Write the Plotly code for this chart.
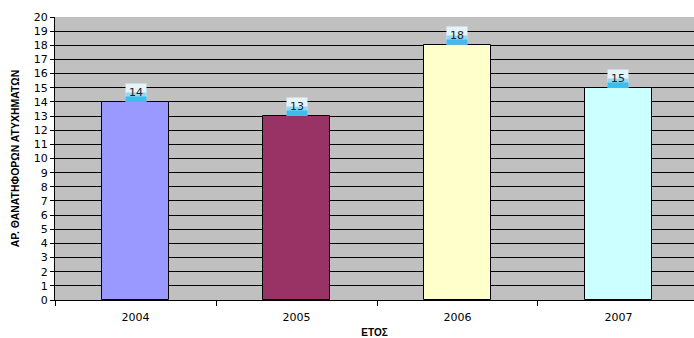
import plotly.graph_objects as go

years = ["2004", "2005", "2006", "2007"]
values = [14, 13, 18, 15]
colors = ["#9999FF", "#993366", "#FFFFCC", "#CCFFFF"]
y_title = "ΑΡ. ΘΑΝΑΤΗΦΟΡΩΝ ΑΤΥΧΗΜΑΤΩΝ"
x_title = "ΕΤΟΣ"

fig = go.Figure()
fig.add_trace(go.Bar(
    x=years, y=values,
    marker=dict(color=colors, line=dict(color="black", width=1)),
    width=0.416, showlegend=False, hoverinfo="skip",
))

for i, v in enumerate(values):
    # gradient-like label background (white top to sky blue bottom)
    fig.add_annotation(x=i, y=v, text=" ", showarrow=False, yanchor="bottom",
                       width=20, height=17, bgcolor="#e4f4fb", borderpad=0)
    fig.add_annotation(x=i, y=v, text=" ", showarrow=False, yanchor="bottom",
                       width=20, height=8, bgcolor="#93d8f5", borderpad=0,
                       font=dict(size=4))
    fig.add_annotation(x=i, y=v, text=" ", showarrow=False, yanchor="bottom",
                       width=20, height=4, bgcolor="#3dbcf0", borderpad=0,
                       font=dict(size=2))
    fig.add_annotation(
        x=i, y=v, text=str(v), showarrow=False, yanchor="bottom",
        width=20, height=17, borderpad=0,
        font=dict(family="DejaVu Sans", size=11, color="#222222"),
    )

fig.update_layout(
    width=694, height=338,
    margin=dict(l=55, r=0, t=17, b=38),
    paper_bgcolor="white", plot_bgcolor="#C0C0C0",
    font=dict(family="DejaVu Sans", size=11, color="black"),
    bargap=0,
)
fig.update_xaxes(
    type="category", automargin=False,
    range=[-0.5, 3.469],
    showgrid=False, showline=True, linecolor="black", linewidth=1,
    ticks="outside", tickson="boundaries", ticklen=5, tickcolor="black",
    ticklabelstandoff=7,
    zeroline=False,
    title=dict(text="<b>" + x_title + "</b>",
               font=dict(family="Liberation Sans, Arial", size=10), standoff=13),
)
fig.update_yaxes(
    automargin=False,
    range=[0, 20], dtick=1, tick0=0,
    showgrid=True, gridcolor="black", gridwidth=1,
    showline=True, linecolor="black", linewidth=1,
    ticks="outside", ticklen=4, tickcolor="black",
    zeroline=False,
    title=dict(text="<b>" + y_title + "</b>",
               font=dict(family="Liberation Sans, Arial", size=10.5), standoff=12),
)

fig.write_html("out.html")
